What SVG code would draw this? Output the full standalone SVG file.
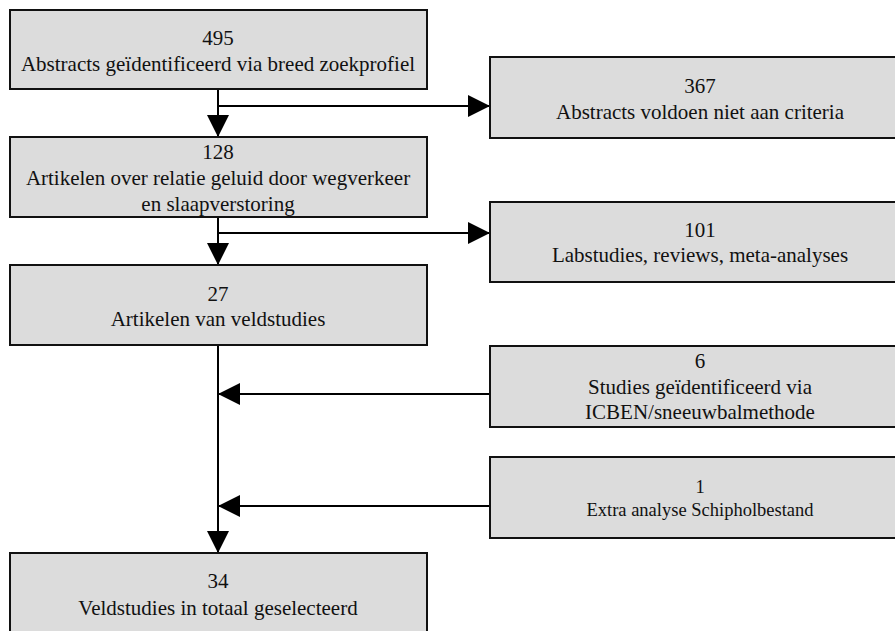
<svg xmlns="http://www.w3.org/2000/svg" width="895" height="631" viewBox="0 0 895 631">
<style>
.box{fill:#dcdcdc;stroke:#111;stroke-width:2}
.t{font-family:"Liberation Serif","Times New Roman",serif;font-size:21px;fill:#111;text-anchor:middle}
.s{font-size:18.5px}
.c{stroke:#000;stroke-width:2;fill:none}
</style>
<defs>
<marker id="ah" markerUnits="userSpaceOnUse" markerWidth="22" markerHeight="22" viewBox="0 0 20 20" refX="20" refY="10" orient="auto">
<path d="M0,0 L20,10 L0,20 Z" fill="#000"/>
</marker>
</defs>
<rect width="895" height="631" fill="#fff"/>
<g id="connectors">
<line class="c" x1="218" y1="89" x2="218" y2="137" marker-end="url(#ah)"/>
<line class="c" x1="218" y1="106" x2="490" y2="106" marker-end="url(#ah)"/>
<line class="c" x1="218" y1="217" x2="218" y2="265" marker-end="url(#ah)"/>
<line class="c" x1="218" y1="233" x2="490" y2="233" marker-end="url(#ah)"/>
<line class="c" x1="218" y1="345" x2="218" y2="553" marker-end="url(#ah)"/>
<line class="c" x1="490" y1="394" x2="218" y2="394" marker-end="url(#ah)"/>
<line class="c" x1="490" y1="506" x2="218" y2="506" marker-end="url(#ah)"/>
</g>
<g id="n495">
<rect class="box" x="10" y="10" width="417" height="79"/>
<text class="t" x="218" y="45">495</text>
<text class="t" x="218" y="71">Abstracts geïdentificeerd via breed zoekprofiel</text>
</g>
<g id="n367">
<rect class="box" x="490" y="57" width="420" height="81"/>
<text class="t" x="700" y="93">367</text>
<text class="t" x="700" y="119">Abstracts voldoen niet aan criteria</text>
</g>
<g id="n128">
<rect class="box" x="10" y="137" width="417" height="80"/>
<text class="t" x="218" y="159">128</text>
<text class="t" x="218" y="185">Artikelen over relatie geluid door wegverkeer</text>
<text class="t" x="218" y="211">en slaapverstoring</text>
</g>
<g id="n101">
<rect class="box" x="490" y="202" width="420" height="80"/>
<text class="t" x="700" y="237">101</text>
<text class="t" x="700" y="262">Labstudies, reviews, meta-analyses</text>
</g>
<g id="n27">
<rect class="box" x="10" y="265" width="417" height="80"/>
<text class="t" x="218" y="301">27</text>
<text class="t" x="218" y="326">Artikelen van veldstudies</text>
</g>
<g id="n6">
<rect class="box" x="490" y="346" width="420" height="81"/>
<text class="t" x="700" y="368">6</text>
<text class="t" x="700" y="394">Studies geïdentificeerd via</text>
<text class="t" x="700" y="419">ICBEN/sneeuwbalmethode</text>
</g>
<g id="n1">
<rect class="box" x="490" y="457" width="420" height="81"/>
<text class="t s" x="700" y="493">1</text>
<text class="t s" x="700" y="516">Extra analyse Schipholbestand</text>
</g>
<g id="n34">
<rect class="box" x="10" y="553" width="417" height="90"/>
<text class="t" x="218" y="588">34</text>
<text class="t" x="218" y="615">Veldstudies in totaal geselecteerd</text>
</g>
</svg>
